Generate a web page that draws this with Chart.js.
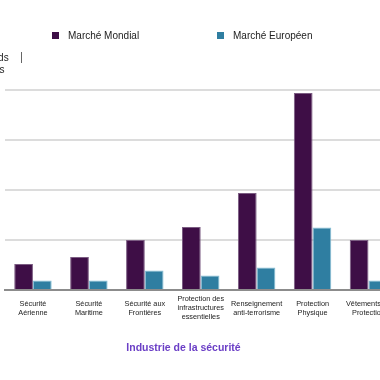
<!DOCTYPE html>
<html>
<head>
<meta charset="utf-8">
<script src="https://cdn.jsdelivr.net/npm/chart.js@4"></script>
<style>
  body { margin: 0; width: 380px; height: 380px; overflow: hidden; position: relative; background: #fff; font-family: "Liberation Sans", Arial, sans-serif; }
  #wrap { position: absolute; left: -32.6px; top: 0; width: 433px; height: 380px; }
  .legend-item { position: absolute; top: 30px; font-size: 10px; color: #222; line-height: 12px; white-space: nowrap; }
  .legend-item span { display: inline-block; width: 7px; height: 7px; margin-right: 9px; vertical-align: 0px; }
  #unit { position: absolute; left: -28px; top: 52px; font-size: 10px; line-height: 12px; color: #222; }
  #caret { position: absolute; left: 21px; top: 52px; width: 1px; height: 11px; background: #666; }
</style>
</head>
<body>
<div id="wrap"><canvas id="chart" width="433" height="380"></canvas></div>
<div id="unit">Milliards<br>d'euros</div>
<div id="caret"></div>
<script>
const categories = [
  ["Sécurité", "Aérienne"],
  ["Sécurité", "Maritime"],
  ["Sécurité aux", "Frontières"],
  ["Protection des", "infrastructures", "essentielles"],
  ["Renseignement", "anti-terrorisme"],
  ["Protection", "Physique"],
  ["Vêtements de", "Protection"]
];
const seriesNames = ["Marché Mondial", "Marché Européen"];
const mondial = [5.2, 6.6, 10, 12.6, 19.4, 39.4, 10];
const europeen = [1.9, 1.9, 3.9, 2.9, 4.5, 12.5, 1.9];
const yMin = 0;
const yMax = 40;
const yStep = 10;

const colors = ["#3e0e46", "#2f7ea1"];
const borders = ["#7b5c82", "#86c0d6"];
const legendX = [52, 217];

seriesNames.forEach((name, i) => {
  const item = document.createElement("div");
  item.className = "legend-item";
  item.style.left = legendX[i] + "px";
  item.innerHTML = `<span style="background:${colors[i]}"></span>${name}`;
  document.body.appendChild(item);
});

const font = "'Liberation Sans', Arial, sans-serif";

new Chart(document.getElementById("chart"), {
  type: "bar",
  data: {
    labels: categories,
    datasets: [
      { label: seriesNames[0], data: mondial, backgroundColor: colors[0], borderColor: borders[0], borderWidth: 1 },
      { label: seriesNames[1], data: europeen, backgroundColor: colors[1], borderColor: borders[1], borderWidth: 1 }
    ]
  },
  options: {
    responsive: false,
    animation: false,
    devicePixelRatio: 1,
    layout: { padding: { top: 90, left: 0, right: 0, bottom: 0 } },
    datasets: { bar: { categoryPercentage: 0.67, barPercentage: 1 } },
    plugins: {
      legend: { display: false },
      tooltip: { enabled: false },
      title: {
        display: true,
        position: "bottom",
        text: "Industrie de la sécurité",
        color: "#6b3fc6",
        font: { family: font, size: 10.5, weight: "bold" },
        padding: { top: 4, bottom: 26 }
      }
    },
    scales: {
      x: {
        grid: { display: false, drawTicks: false },
        border: { color: "#8c8c8c", width: 2 },
        ticks: {
          color: "#222",
          font: { family: font, size: 7.3, lineHeight: 1.25 },
          padding: 9,
          maxRotation: 0,
          minRotation: 0,
          autoSkip: false,
          crossAlign: "center"
        },
        afterFit(scale) { scale.height = 47.4; }
      },
      y: {
        min: yMin,
        max: yMax,
        ticks: { display: false, stepSize: yStep },
        grid: { color: "#dcdcdc", lineWidth: 2, drawTicks: false },
        border: { display: false },
        afterFit(scale) { scale.width = 38; }
      }
    }
  }
});
</script>
</body>
</html>
